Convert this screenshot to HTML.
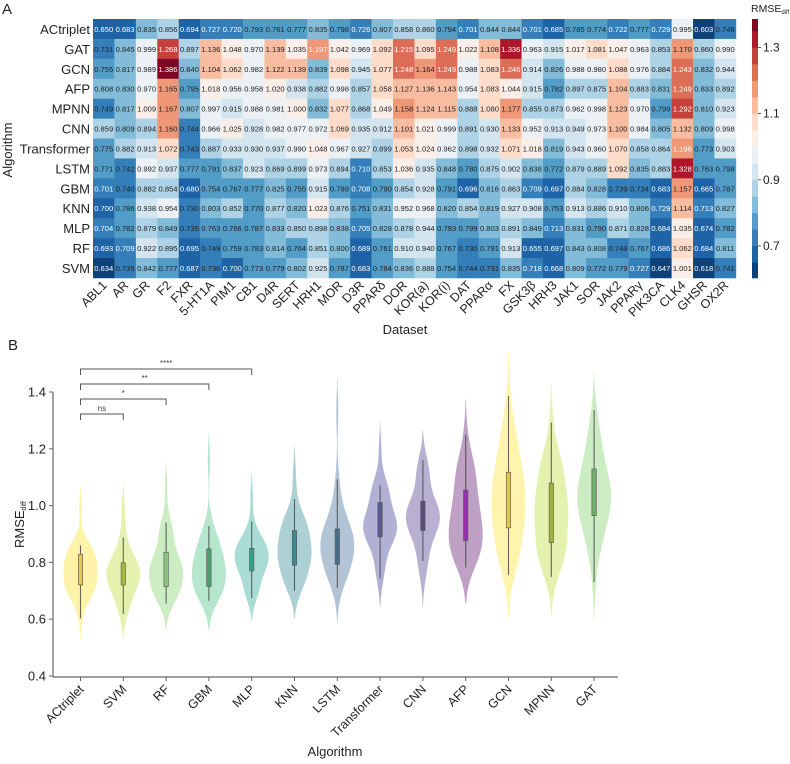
<!DOCTYPE html>
<html><head><meta charset="utf-8">
<style>
html,body{margin:0;padding:0;background:#fff;}
svg{display:block;font-family:"Liberation Sans",Arial,sans-serif;}
</style></head>
<body>
<svg id="fig" width="790" height="764" viewBox="0 0 790 764" xmlns="http://www.w3.org/2000/svg"></svg>
<script>
const datasets = ["ABL1","AR","GR","F2","FXR","5-HT1A","PIM1","CB1","D4R","SERT","HRH1","MOR","D3R","PPARδ","DOR","KOR(a)","KOR(i)","DAT","PPARα","FX","GSK3β","HRH3","JAK1","SOR","JAK2","PPARγ","PIK3CA","CLK4","GHSR","OX2R"];
const heatAlgorithms = ["ACtriplet","GAT","GCN","AFP","MPNN","CNN","Transformer","LSTM","GBM","KNN","MLP","RF","SVM"];
const valsACtriplet = [0.650,0.683,0.835,0.856,0.694,0.727,0.720,0.793,0.761,0.777,0.835,0.798,0.726,0.807,0.858,0.860,0.794,0.701,0.844,0.844,0.701,0.685,0.785,0.774,0.722,0.777,0.729,0.995,0.603,0.746];
const valsGAT = [0.731,0.845,0.999,1.268,0.897,1.136,1.048,0.970,1.139,1.035,1.197,1.042,0.969,1.092,1.215,1.095,1.249,1.022,1.108,1.336,0.963,0.915,1.017,1.081,1.047,0.963,0.853,1.170,0.860,0.990];
const valsGCN = [0.755,0.817,0.989,1.386,0.840,1.104,1.062,0.982,1.122,1.139,0.839,1.098,0.945,1.077,1.248,1.164,1.249,0.988,1.083,1.246,0.914,0.826,0.988,0.980,1.088,0.976,0.884,1.243,0.832,0.944];
const valsAFP = [0.808,0.830,0.970,1.165,0.795,1.018,0.956,0.958,1.020,0.938,0.882,0.998,0.857,1.058,1.127,1.136,1.143,0.954,1.083,1.044,0.915,0.782,0.897,0.875,1.104,0.883,0.831,1.249,0.833,0.892];
const valsMPNN = [0.749,0.817,1.009,1.167,0.807,0.997,0.915,0.988,0.981,1.000,0.832,1.077,0.868,1.049,1.158,1.124,1.115,0.888,1.080,1.177,0.855,0.873,0.962,0.998,1.123,0.970,0.799,1.292,0.810,0.923];
const valsCNN = [0.859,0.809,0.894,1.160,0.744,0.966,1.025,0.928,0.982,0.977,0.972,1.069,0.935,0.912,1.101,1.021,0.999,0.891,0.930,1.133,0.952,0.913,0.949,0.973,1.100,0.984,0.805,1.132,0.809,0.998];
const valsTransformer = [0.775,0.882,0.913,1.072,0.743,0.887,0.933,0.930,0.937,0.990,1.048,0.967,0.927,0.899,1.053,1.024,0.962,0.898,0.932,1.071,1.018,0.819,0.943,0.960,1.070,0.858,0.864,1.196,0.773,0.903];
const valsLSTM = [0.771,0.742,0.992,0.937,0.777,0.791,0.837,0.923,0.869,0.899,0.973,0.894,0.710,0.853,1.036,0.935,0.848,0.780,0.875,0.902,0.838,0.772,0.879,0.889,1.092,0.835,0.883,1.328,0.763,0.798];
const valsGBM = [0.701,0.740,0.882,0.854,0.680,0.754,0.767,0.777,0.825,0.755,0.915,0.799,0.708,0.790,0.854,0.928,0.791,0.696,0.816,0.863,0.709,0.697,0.884,0.828,0.739,0.734,0.683,1.157,0.665,0.787];
const valsKNN = [0.700,0.786,0.938,0.954,0.730,0.803,0.852,0.770,0.877,0.820,1.023,0.876,0.751,0.831,0.952,0.968,0.820,0.854,0.819,0.927,0.908,0.753,0.913,0.886,0.910,0.806,0.729,1.114,0.713,0.827];
const valsMLP = [0.704,0.782,0.879,0.849,0.735,0.763,0.766,0.787,0.833,0.850,0.898,0.838,0.705,0.828,0.878,0.944,0.793,0.799,0.803,0.891,0.849,0.713,0.831,0.790,0.871,0.828,0.684,1.035,0.674,0.782];
const valsRF = [0.693,0.709,0.922,0.895,0.695,0.749,0.759,0.783,0.814,0.764,0.851,0.800,0.689,0.761,0.910,0.940,0.767,0.730,0.791,0.913,0.655,0.697,0.843,0.808,0.748,0.767,0.686,1.062,0.684,0.811];
const valsSVM = [0.634,0.735,0.842,0.777,0.687,0.736,0.700,0.773,0.779,0.802,0.925,0.787,0.683,0.784,0.836,0.888,0.754,0.744,0.731,0.835,0.718,0.668,0.809,0.772,0.779,0.727,0.647,1.001,0.618,0.741];
const colorbarTicks = [0.7,0.9,1.1,1.3];
const violinOrder = ["ACtriplet","SVM","RF","GBM","MLP","KNN","LSTM","Transformer","CNN","AFP","GCN","MPNN","GAT"];
const violinYTicks = [0.4,0.6,0.8,1.0,1.2,1.4];
const sigLabels = ["ns","*","**","****"];
const sigTargets = ["SVM","RF","GBM","MLP"];

const rowsByAlg = {ACtriplet:valsACtriplet,GAT:valsGAT,GCN:valsGCN,AFP:valsAFP,MPNN:valsMPNN,CNN:valsCNN,Transformer:valsTransformer,LSTM:valsLSTM,GBM:valsGBM,KNN:valsKNN,MLP:valsMLP,RF:valsRF,SVM:valsSVM};
const violinFill = {ACtriplet:"#fff2a0",SVM:"#e2f0a6",RF:"#c6eabd",GBM:"#aee3c9",MLP:"#9fd8cf",KNN:"#a4cbcf",LSTM:"#aabed0",Transformer:"#a8a9d0",CNN:"#b0a7cb",AFP:"#b797bf",GCN:"#fff3a4",MPNN:"#e2f0a6",GAT:"#c6eabd"};
const boxFill = {ACtriplet:"#e2cb48",SVM:"#a6b848",RF:"#8cc27a",GBM:"#4c9e72",MLP:"#3c9a8a",KNN:"#3e8a92",LSTM:"#4a6e8a",Transformer:"#5a5a92",CNN:"#594a80",AFP:"#9a30b2",GCN:"#e0c840",MPNN:"#a2b040",GAT:"#6ab262"};

const svg = document.getElementById('fig');
const NS = "http://www.w3.org/2000/svg";
function mk(tag, attrs, parent){ const e=document.createElementNS(NS,tag); for(const k in attrs) e.setAttribute(k,attrs[k]); (parent||svg).appendChild(e); return e; }
function txt(s, attrs, parent){ const e=mk('text',attrs,parent); e.textContent=s; return e; }

// RdBu_r colormap (discrete)
const stops = ["#053061","#2166ac","#4393c3","#92c5de","#d1e5f0","#f7f7f7","#fddbc7","#f4a582","#d6604d","#b2182b","#67001f"];
function hex(c){return [parseInt(c.substr(1,2),16),parseInt(c.substr(3,2),16),parseInt(c.substr(5,2),16)];}
function cmap(t){ t=Math.max(0,Math.min(1,t)); const p=t*(stops.length-1); const i=Math.min(stops.length-2,Math.floor(p)); const f=p-i; const a=hex(stops[i]), b=hex(stops[i+1]); return "rgb("+a.map((x,k)=>Math.round(x+(b[k]-x)*f)).join(",")+")"; }
const vMin=0.6, vStep=0.05, nBins=16;
function color(v){ let b=Math.floor((v-vMin)/vStep); b=Math.max(0,Math.min(nBins-1,b)); return cmap((b+0.5)/nBins); }

// ---------- Panel A ----------
const hx0=93, hy0=19, cw=21.43, ch=19.92;
const colX = i => hx0 + i*cw;
const rowY = j => hy0 + j*ch;
txt("A",{x:2,y:14,"font-size":15,fill:"#222",});
const gHeat = mk('g',{});
heatAlgorithms.forEach((alg,j)=>{
  const row = rowsByAlg[alg];
  row.forEach((v,i)=>{
    const r = mk('rect',{x:colX(i),y:rowY(j),width:cw+0.3,height:ch+0.3,fill:color(v)},gHeat);
    
    
    const t = txt(v.toFixed(3),{x:colX(i)+cw/2,y:rowY(j)+ch/2+3,"font-size":7.6,"text-anchor":"middle",fill:(v<0.73||v>1.19)?"#fff":"#222"},gHeat);
    
    
  });
  const lab = txt(alg,{x:hx0-3,y:rowY(j)+ch/2+5,"font-size":13,"text-anchor":"end",fill:"#222"});
  
  
});
datasets.forEach((d,i)=>{
  const cx = colX(i)+cw/2;
  const t = txt(d,{x:cx+4,y:hy0+13*ch+8,"font-size":12.5,"text-anchor":"end",fill:"#222",transform:`rotate(-45 ${cx+4} ${hy0+13*ch+8})`});
  
  
});
txt("Dataset",{x:405,y:334,"font-size":13,"text-anchor":"middle",fill:"#222",});
txt("Algorithm",{x:12,y:150,"font-size":13,"text-anchor":"middle",fill:"#222",transform:"rotate(-90 12 150)",});

// colorbar
const cbTop=19, cbBot=278, cbMax=1.386, cbMin=0.603;
const cbY = v => cbTop + (cbMax-v)/(cbMax-cbMin)*(cbBot-cbTop);
const gCb = mk('g',{});
for(let b=0;b<nBins;b++){
  const lo=Math.max(cbMin,vMin+b*vStep), hi=Math.min(cbMax,vMin+(b+1)*vStep);
  if(hi<=lo) continue;
  const r=mk('rect',{x:752,y:cbY(hi),width:6,height:cbY(lo)-cbY(hi)+0.3,fill:cmap((b+0.5)/nBins)},gCb);
  
  
}
colorbarTicks.forEach(v=>{
  mk('line',{x1:758,x2:761,y1:cbY(v),y2:cbY(v),stroke:"#333","stroke-width":0.8},gCb);
  const t=txt(v.toFixed(1),{x:763,y:cbY(v)+4,"font-size":12,fill:"#222"},gCb);
  
  
});
const cbt = txt("RMSE",{x:751,y:12,"font-size":10.5,fill:"#222",});
const sub = mk('tspan',{"font-size":6,dy:2},cbt); sub.textContent="diff";

// ---------- Panel B ----------
txt("B",{x:8,y:350,"font-size":15,fill:"#222",});
const ax0=53, axBottom=677, vx0=80.5, vdx=42.8;
const vY = v => 392 + (1.4-v)*(676-392)/1.0;
const vX = i => vx0 + i*vdx;
const gAx = mk('g',{});
mk('line',{x1:ax0,x2:ax0,y1:vY(1.4),y2:axBottom,stroke:"#666","stroke-width":1.2},gAx);
mk('line',{x1:ax0,x2:618,y1:axBottom,y2:axBottom,stroke:"#666","stroke-width":1.2},gAx);
violinYTicks.forEach(v=>{
  mk('line',{x1:ax0-4,x2:ax0,y1:vY(v),y2:vY(v),stroke:"#666","stroke-width":1},gAx);
  const t=txt(v.toFixed(1),{x:ax0-7,y:vY(v)+4.5,"font-size":13,"text-anchor":"end",fill:"#222"},gAx);
  
  
});
const yl = txt("RMSE",{x:24,y:548,"font-size":13,fill:"#222",transform:"rotate(-90 24 548)",});
const yls = mk('tspan',{"font-size":7,dy:2},yl); yls.textContent="diff";
txt("Algorithm",{x:335,y:756,"font-size":13,"text-anchor":"middle",fill:"#222",});

function quant(s,p){ const pos=(s.length-1)*p, lo=Math.floor(pos), hi=Math.ceil(pos); return s[lo]+(s[hi]-s[lo])*(pos-lo); }
violinOrder.forEach((alg,i)=>{
  const data = rowsByAlg[alg].slice().sort((a,b)=>a-b);
  const n=data.length, mean=data.reduce((a,b)=>a+b,0)/n;
  const sd=Math.sqrt(data.reduce((a,b)=>a+(b-mean)*(b-mean),0)/(n-1));
  const bw=sd*Math.pow(n,-0.2);
  const lo=data[0]-2*bw, hi=data[n-1]+2*bw;
  const N=80, pts=[];
  let mx=0;
  for(let k=0;k<=N;k++){
    const y=lo+(hi-lo)*k/N; let d=0;
    data.forEach(x=>{const z=(y-x)/bw; d+=Math.exp(-0.5*z*z);});
    pts.push([y,d]); if(d>mx) mx=d;
  }
  const cx=vX(i), hw=17;
  let path="M"+pts.map(p=>`${(cx+p[1]/mx*hw).toFixed(2)},${vY(p[0]).toFixed(2)}`).join("L");
  path+="L"+pts.slice().reverse().map(p=>`${(cx-p[1]/mx*hw).toFixed(2)},${vY(p[0]).toFixed(2)}`).join("L")+"Z";
  const g=mk('g',{});
  
  
  mk('path',{d:path,fill:violinFill[alg],"fill-opacity":0.9,stroke:"none"},g);
  const q1=quant(data,0.25), q3=quant(data,0.75), iqr=q3-q1;
  const wLo=data.find(v=>v>=q1-1.5*iqr), wHi=data.slice().reverse().find(v=>v<=q3+1.5*iqr);
  mk('line',{x1:cx,x2:cx,y1:vY(wHi),y2:vY(wLo),stroke:"#444","stroke-width":1.1,"stroke-opacity":0.8},g);
  mk('rect',{x:cx-2.2,y:vY(q3),width:4.4,height:vY(q1)-vY(q3),fill:boxFill[alg],stroke:"#555","stroke-width":0.6},g);
  mk('line',{x1:cx,x2:cx,y1:axBottom,y2:axBottom+4,stroke:"#666","stroke-width":1},gAx);
  const t=txt(alg,{x:cx+4,y:axBottom+13,"font-size":12.5,"text-anchor":"end",fill:"#222",transform:`rotate(-45 ${cx+4} ${axBottom+13})`});
  
  
});
// significance brackets
const sigY = [414,399,384,369];
sigTargets.forEach((tg,k)=>{
  const x1=vX(0), x2=vX(violinOrder.indexOf(tg)), y=sigY[k];
  const g=mk('g',{});
  
  
  mk('path',{d:`M${x1},${y+6}V${y}H${x2}V${y+6}`,fill:"none",stroke:"#555","stroke-width":1},g);
  txt(sigLabels[k],{x:(x1+x2)/2,y:y-3,"font-size":8,"text-anchor":"middle",fill:"#444"},g);
});
</script>
</body></html>
